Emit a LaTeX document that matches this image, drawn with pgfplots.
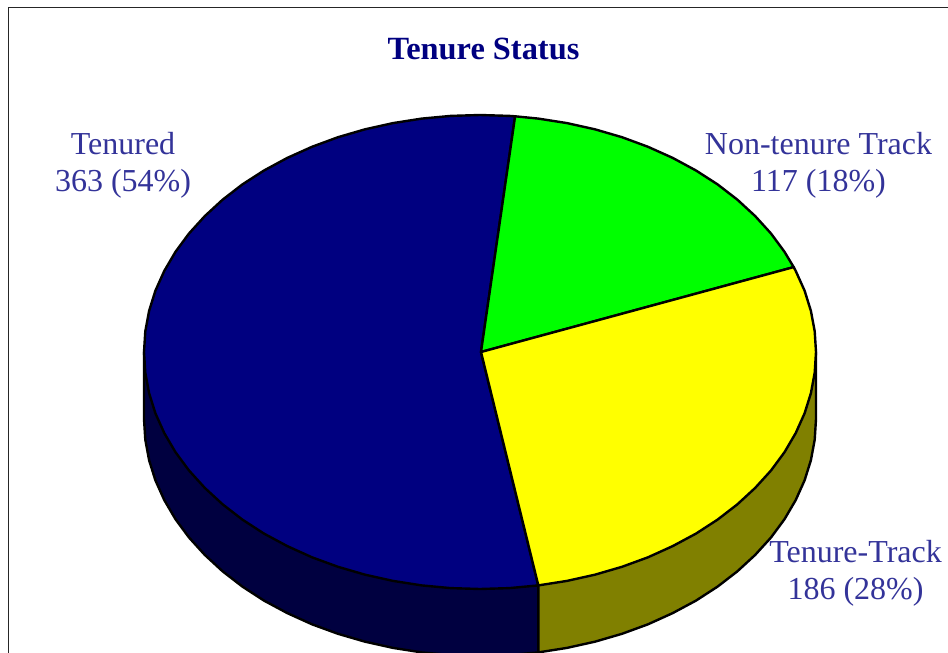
\documentclass[border=0pt]{standalone}
\usepackage{pgfplots}
\usepackage{fontspec}
\setmainfont{Liberation Serif}
\pgfplotsset{compat=1.18}
\definecolor{lab}{HTML}{333399}
\definecolor{navyc}{HTML}{000080}
\definecolor{navyd}{HTML}{000040}
\definecolor{olivec}{HTML}{808000}
\definecolor{greenc}{HTML}{00FF00}
\definecolor{yellowc}{HTML}{FFFF00}
\newcommand{\lab}[1]{\fontsize{32}{37}\selectfont #1}
\begin{document}
\begin{tikzpicture}
\begin{axis}[
  scale only axis, width=948pt, height=653pt,
  xmin=0, xmax=948, ymin=0, ymax=653, y dir=reverse,
  hide axis,
  every axis plot/.append style={line join=round, line width=2.4pt, draw=black},
]
\path (axis cs:0,0) rectangle (axis cs:948,653);
% frame
\addplot[line width=1.3pt, draw=black!85, forget plot] coordinates {(8.5,653) (8.5,7.5) (948,7.5)};
% side walls
\addplot[fill=navyd] coordinates {(144,352) (144,419) (145.3,439.7) (149.1,460.2) (155.4,480.3) (164.3,500.1) (175.5,519.2) (189,537.5) (204.8,554.9) (222.6,571.3) (242.4,586.6) (264,600.6) (287.3,613.1) (312,624.3) (338,633.8) (365.1,641.7) (393,647.9) (421.7,652.4) (450.7,655.1) (480,656) (509.3,655.1) (538.3,652.4) (538.3,585.4)} -- cycle;
\addplot[fill=olivec] coordinates {(538.3,585.4) (538.3,652.4) (567,647.9) (594.9,641.7) (622,633.8) (648,624.3) (672.7,613.1) (696,600.6) (717.6,586.6) (737.4,571.3) (755.2,554.9) (771,537.5) (784.5,519.2) (795.7,500.1) (804.6,480.3) (810.9,460.2) (814.7,439.7) (816,419) (816,352)} -- cycle;
% top: Tenured 363
\addplot[fill=navyc] coordinates {(481,352) (538.3,585.4) (509.3,588.1) (480,589) (450.7,588.1) (421.7,585.4) (393,580.9) (365.1,574.7) (338,566.8) (312,557.3) (287.3,546.1) (264,533.6) (242.4,519.6) (222.6,504.3) (204.8,487.9) (189,470.5) (175.5,452.2) (164.3,433.1) (155.4,413.3) (149.1,393.2) (145.3,372.7) (144,352) (145.3,331.3) (149.1,310.9) (155.4,290.7) (164.3,270.9) (175.5,251.8) (189,233.5) (204.8,216.1) (222.6,199.7) (242.4,184.4) (264,170.5) (287.3,157.9) (312,146.8) (338,137.2) (365.1,129.3) (393,123.1) (421.7,118.6) (450.7,115.9) (480,115) (509.3,115.9) (515.1,116.3)} -- cycle;
% top: Non-tenure Track 117
\addplot[fill=greenc] coordinates {(481,352) (515.1,116.3) (538.3,118.6) (567,123.1) (594.9,129.3) (622,137.2) (648,146.8) (672.7,157.9) (696,170.5) (717.6,184.4) (737.4,199.7) (755.2,216.1) (771,233.5) (784.5,251.8) (793.7,267.1)} -- cycle;
% top: Tenure-Track 186
\addplot[fill=yellowc] coordinates {(481,352) (793.7,267.1) (795.7,270.9) (804.6,290.7) (810.9,310.9) (814.7,331.3) (816,352) (814.7,372.7) (810.9,393.2) (804.6,413.3) (795.7,433.1) (784.5,452.2) (771,470.5) (755.2,487.9) (737.4,504.3) (717.6,519.6) (696,533.6) (672.7,546.1) (648,557.3) (622,566.8) (594.9,574.7) (567,580.9) (538.3,585.4)} -- cycle;
% texts
\node[anchor=base, inner sep=0pt, text=navyc, font=\fontsize{32.4}{37}\selectfont\bfseries] at (axis cs:483.5,59) {Tenure Status};
\node[anchor=base, inner sep=0pt, text=lab, font=\lab{}] at (axis cs:123,154) {Tenured};
\node[anchor=base, inner sep=0pt, text=lab, font=\lab{}] at (axis cs:123,191) {363 (54\%)};
\node[anchor=base, inner sep=0pt, text=lab, font=\lab{}] at (axis cs:818.5,154) {Non-tenure Track};
\node[anchor=base, inner sep=0pt, text=lab, font=\lab{}] at (axis cs:818.5,191) {117 (18\%)};
\node[anchor=base, inner sep=0pt, text=lab, font=\lab{}] at (axis cs:855.5,562) {Tenure-Track};
\node[anchor=base, inner sep=0pt, text=lab, font=\lab{}] at (axis cs:855.5,599) {186 (28\%)};
\end{axis}
\end{tikzpicture}
\end{document}
